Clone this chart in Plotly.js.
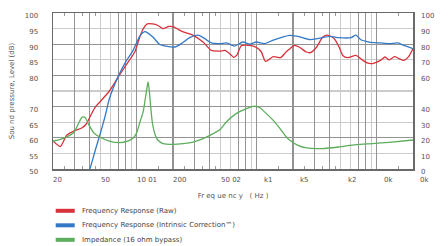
<!DOCTYPE html>
<html>
<head>
<meta charset="utf-8">
<script src="https://cdn.plot.ly/plotly-3.0.1.min.js"></script>
<style>html,body{margin:0;padding:0;background:#fff;}#chart{width:448px;height:246px;}</style>
</head>
<body>
<div id="chart"></div>
<script>
// ---- data ----
const freqRaw = [20, 23, 26, 30, 35, 38, 41, 45, 50, 59, 70, 82, 96, 105, 113, 122, 135, 150, 165, 185, 200, 240, 290, 356, 417, 495, 540, 600, 640, 680, 742, 870, 990, 1090, 1180, 1370, 1580, 1750, 1880, 2040, 2250, 2580, 2800, 3150, 3540, 3890, 4400, 4840, 5200, 5700, 6700, 7300, 8300, 9200, 10700, 11700, 12700, 14000, 15300, 16800, 18400, 20000];
const splRaw = [59, 57.2, 60.8, 62.2, 63.2, 64.5, 67, 69.8, 71.8, 75, 79.5, 83.5, 87.5, 92, 95, 96.5, 96.5, 96, 95, 95.7, 95.6, 94, 93, 90.7, 88, 87.8, 88, 86.8, 85.8, 86.5, 89.5, 89.6, 89, 87.5, 84.5, 86, 85.7, 87.5, 88.5, 89.6, 89.1, 87.5, 87.3, 89.1, 92.3, 92.9, 91.8, 89.1, 86.4, 85.7, 86.4, 85.4, 84, 83.8, 84.8, 85.9, 85, 86, 85.4, 84.8, 86, 88.6];

const freqCorr = [38, 40.6, 45, 49.5, 54, 59, 70, 82, 93, 106, 116, 120, 136, 155, 175, 207, 235, 275, 323, 368, 417, 494, 560, 652, 764, 870, 990, 1160, 1370, 1880, 2300, 2760, 3200, 4100, 4800, 6100, 6700, 7300, 8600, 10700, 12700, 15000, 16800, 20000];
const splCorr = [47, 50, 56, 61.3, 66.5, 72.5, 79.7, 84.8, 88, 92.7, 94, 93.9, 92.3, 89.9, 89.4, 89.1, 90.2, 92.1, 92.9, 91.8, 90.4, 90.2, 90.4, 89.4, 90.7, 90, 90.7, 90.2, 91.3, 92.8, 92.3, 91.5, 91.8, 92.5, 92.1, 92.1, 92.9, 91.5, 90.7, 90.4, 90.2, 90.4, 89.6, 88.6];

const freqImp = [20, 23, 26, 30, 33, 35, 37, 40, 44, 49, 59, 72, 84, 92, 99, 106, 113, 118, 122, 124, 127, 131, 135, 142, 150, 165, 200, 243, 294, 356, 433, 494, 556, 672, 820, 930, 1050, 1200, 1370, 1560, 1760, 1880, 2200, 2600, 3500, 4800, 6700, 9200, 12700, 20000];
const ohmImp = [17.9, 19, 20.5, 23.7, 30, 33.3, 33, 28, 23, 20.5, 17.9, 16.9, 17.9, 19.5, 22.7, 30, 37, 46, 53, 55.8, 50, 38, 29, 22, 18.4, 16.3, 15.8, 16.3, 17.3, 19.5, 22.7, 25.3, 30.1, 35.5, 38.7, 40.2, 39.4, 35.5, 31.2, 25.9, 20.5, 18.4, 15.2, 13.5, 13.1, 14.1, 15.6, 16.3, 17.1, 18.6];

const seriesNames = ["Frequency Response (Raw)", "Frequency Response (Intrinsic Correction\u2122)", "Impedance (16 ohm bypass)"];
const seriesColors = ["#d8323c", "#3479c6", "#5cad5c"];

const xTickFreqs = [20, 50, 100, 200, 500, 1000, 2000, 5000, 10000, 20000];
const xTickText = ["20", "50", "10 01", "200", "50 02", "k1", "k5", "k2", "0k", "0k"];
const leftTickVals = [50, 55, 60, 65, 70, 80, 85, 90, 95, 100];
const rightTickVals = [0, 10, 20, 30, 40, 60, 70, 80, 90, 100];

const xGridDark = [30, 40, 70, 80, 100, 200, 300, 400, 700, 800, 1000, 2000, 3000, 4000, 7000, 8000, 10000];
const xGridLight = [50, 60, 90, 500, 600, 900, 5000, 6000, 9000];
const innerTicks = [25, 35, 45, 150, 250, 350, 450, 1500, 2500, 3500, 4500, 15000];
const yGridDark = [60, 70, 80, 90];
const y2GridLight = [10, 30, 50, 70, 90];

const yTitle = "Sou nd pressure, Level (dB)";
const xTitle = "Fr eq ue nc y &nbsp; ( Hz )";

// ---- geometry helpers (pixels -> paper) ----
const W = 448, H = 246;
const M = {l: 53.3, r: 34.7, t: 12.7, b: 77.3};
const pw = W - M.l - M.r, ph = H - M.t - M.b;
const px = x => (x - M.l) / pw;
const py = y => (H - M.b - y) / ph;

const lineW = 1.3;
const traces = [
  {x: freqRaw, y: splRaw, xaxis: 'x', yaxis: 'y', mode: 'lines', name: seriesNames[0],
   line: {color: seriesColors[0], width: lineW, shape: 'spline', smoothing: 0.6}},
  {x: freqCorr, y: splCorr, xaxis: 'x', yaxis: 'y', mode: 'lines', name: seriesNames[1],
   line: {color: seriesColors[1], width: lineW, shape: 'spline', smoothing: 0.6}},
  {x: freqImp, y: ohmImp, xaxis: 'x2', yaxis: 'y2', mode: 'lines', name: seriesNames[2],
   line: {color: seriesColors[2], width: lineW, shape: 'spline', smoothing: 0.6}}
];

const txtColor = '#555';
const tickFont = {family: 'DejaVu Sans, sans-serif', size: 7, color: txtColor};
const xr = [Math.log10(20), Math.log10(20000)];
const dark = '#939393', light = '#cccccc', frame = '#6a6a6a';

const annotations = xTickFreqs.map((f, i) => ({
  x: Math.log10(f), xref: 'x', y: 0, yref: 'paper', yanchor: 'top', xanchor: 'left',
  xshift: xTickText[i].indexOf('k') >= 0 ? 5 : -2, yshift: -5,
  text: xTickText[i], showarrow: false, font: tickFont
}));

const legY = [210.5, 225, 239.5];
const shapes = [];
seriesNames.forEach((n, i) => {
  shapes.push({type: 'line', xref: 'paper', yref: 'paper', x0: px(56), x1: px(75), y0: py(legY[i]), y1: py(legY[i]),
    line: {color: seriesColors[i], width: 4}});
  annotations.push({x: px(80.5), xref: 'paper', y: py(legY[i]), yref: 'paper', xanchor: 'left', yanchor: 'middle',
    text: n, showarrow: false, font: {family: 'DejaVu Sans, sans-serif', size: 7, color: '#444'}});
});

const layout = {
  width: W, height: H, margin: M,
  paper_bgcolor: '#fff', plot_bgcolor: '#fff',
  showlegend: false,
  xaxis: {type: 'log', range: xr, tickmode: 'array', tickvals: xGridDark, showticklabels: false, ticks: '',
    showgrid: true, gridcolor: dark, gridwidth: 1.2, zeroline: false,
    showline: true, linecolor: frame, linewidth: 1.5, mirror: true,
    minor: {tickmode: 'array', tickvals: xGridLight, showgrid: true, gridcolor: light, gridwidth: 1.2, ticks: ''},
    title: {text: xTitle, font: {family: 'DejaVu Sans, sans-serif', size: 7, color: txtColor}, standoff: 23}},
  xaxis2: {type: 'log', range: xr, overlaying: 'x', anchor: 'y2', side: 'bottom', tickmode: 'array', tickvals: innerTicks,
    ticks: 'inside', ticklen: 3, tickwidth: 1, tickcolor: '#999', mirror: 'ticks',
    showticklabels: false, showgrid: false, showline: false, zeroline: false},
  yaxis: {range: [50, 100], tickmode: 'array', tickvals: leftTickVals, ticktext: leftTickVals.map(String),
    color: txtColor, showgrid: false, zeroline: false, ticks: '', tickfont: tickFont, ticklabelstandoff: 12, ticklabelshift: 3,
    showline: true, linecolor: frame, linewidth: 1.5, mirror: true,
    minor: {tickmode: 'array', tickvals: yGridDark, showgrid: true, gridcolor: dark, gridwidth: 1.2, ticks: ''},
    title: {text: yTitle, font: {family: 'DejaVu Sans, sans-serif', size: 7, color: txtColor}, standoff: 9}},
  yaxis2: {range: [0, 100], overlaying: 'y', side: 'right', anchor: 'x2', tickmode: 'array', tickvals: rightTickVals,
    ticktext: rightTickVals.map(String), color: txtColor, showgrid: false, zeroline: false, ticks: '', tickfont: tickFont,
    ticklabelstandoff: 7, ticklabelshift: 3, showline: false,
    minor: {tickmode: 'array', tickvals: y2GridLight, showgrid: true, gridcolor: light, gridwidth: 1.2, ticks: ''}},
  annotations: annotations,
  shapes: shapes
};

Plotly.newPlot('chart', traces, layout, {staticPlot: true, displayModeBar: false});
</script>
</body>
</html>
